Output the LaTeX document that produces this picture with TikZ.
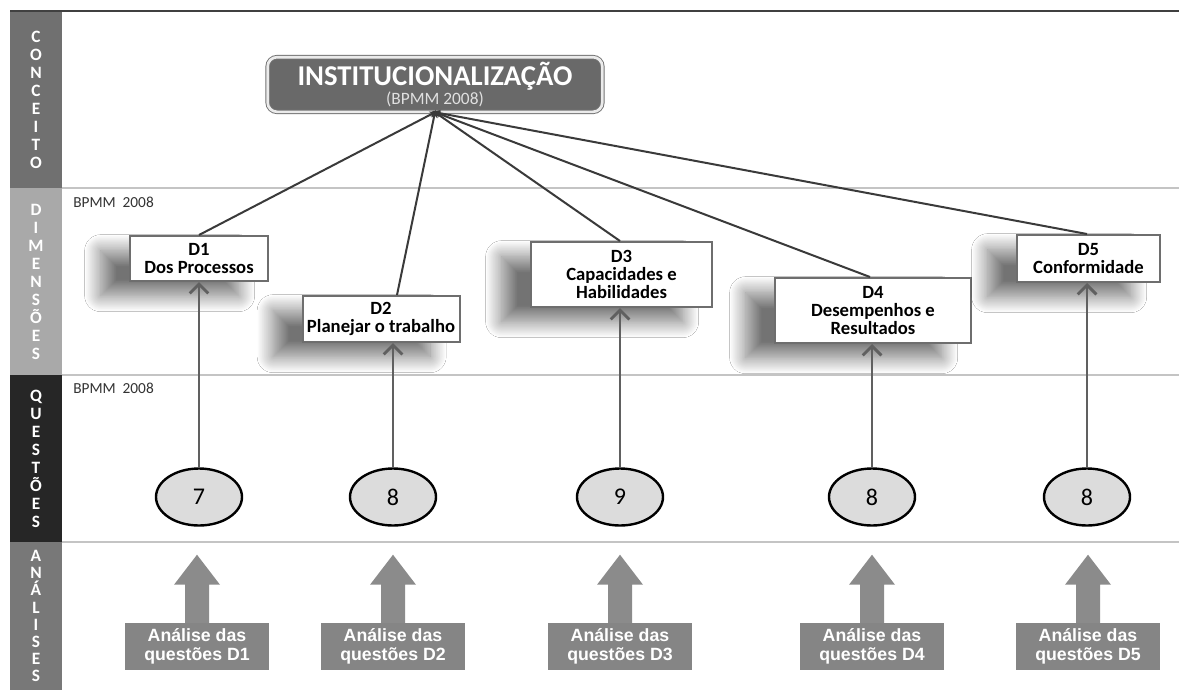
\documentclass[tikz,border=0pt]{standalone}
\usepackage{fontspec}
\setmainfont{Carlito}
\newfontfamily\arialf{Liberation Sans}
\usetikzlibrary{arrows.meta,calc,shadows.blur,shapes.geometric}
\definecolor{sconc}{HTML}{707070}
\definecolor{sdim}{HTML}{A9A9A9}
\definecolor{sques}{HTML}{262626}
\definecolor{sanal}{HTML}{787878}
\definecolor{mainfill}{HTML}{696969}
\definecolor{sepcol}{HTML}{C4C4C4}
\definecolor{dborder}{HTML}{6E6E6E}
\definecolor{linecol}{HTML}{3A3A3A}
\definecolor{upcol}{HTML}{606060}
\definecolor{blockcol}{HTML}{858585}
\definecolor{circfill}{HTML}{DCDCDC}
\begin{document}
\begin{tikzpicture}[x=0.75pt,y=-0.75pt,
  sidebox/.style={rectangle, inner sep=0pt, minimum width=39pt, text=white,
    font=\fontsize{13}{13.5}\selectfont\bfseries, align=center},
  sepline/.style={draw=sepcol, line width=1.5pt},
  bpmm/.style={anchor=west, inner sep=0pt, text=black!80, font=\fontsize{11.5}{12}\selectfont},
  mainbox/.style={rectangle, rounded corners=7pt, fill=mainfill, draw=black!55,
    double=black!8, double distance=2pt, line width=0.7pt,
    minimum width=251pt, minimum height=41pt, text=white, align=center, inner sep=0pt},
  dbox/.style={rectangle, draw=dborder, line width=1.5pt, fill=white, align=center,
    inner sep=0pt, font=\fontsize{14}{13.5}\selectfont\bfseries,
    blur shadow={shadow xshift=-22pt, shadow yshift=-11pt, shadow blur radius=12pt,
      shadow blur steps=24, shadow opacity=55}},
  qcirc/.style={ellipse, draw=black, line width=1.8pt, fill=circfill, inner sep=0pt,
    minimum width=64.5pt, minimum height=42.75pt, font=\fontsize{18}{20}\selectfont},
  abox/.style={rectangle, fill=blockcol, text=white, align=center, inner sep=0pt,
    minimum width=108pt, minimum height=35.25pt,
    font=\arialf\fontsize{13.3}{13.8}\selectfont\bfseries},
  tomain/.style={draw=linecol, line width=1.5pt, -{Stealth[length=6pt,width=5pt]}, shorten >=-2pt},
  uparr/.style={draw=upcol, line width=2.2pt, -{Straight Barb[length=7pt,width=14pt]}}
]
\useasboundingbox (0,0) rectangle (1179,690);
\fill[white] (0,0) rectangle (1179,690);

% sidebar
\node[sidebox, fill=sconc, minimum height=132pt] (s1) at (36,100) {C\\O\\N\\C\\E\\I\\T\\O};
\node[sidebox, fill=sdim, minimum height=140.25pt] (s2) at (36,281.5) {D\\I\\M\\E\\N\\S\\Õ\\E\\S};
\node[sidebox, fill=sques, minimum height=125.25pt] (s3) at (36,458.5) {Q\\U\\E\\S\\T\\Õ\\E\\S};
\node[sidebox, fill=sanal, minimum height=111pt, font=\fontsize{13}{12.8}\selectfont\bfseries] (s4) at (36,616) {A\\N\\Á\\L\\I\\S\\E\\S};

% frame lines
\draw[draw=black!75, line width=2.2pt] (10,11) -- (1179,11);
\draw[sepline] (62,188) -- (1179,188);
\draw[sepline] (62,375) -- (1179,375);
\draw[sepline] (62,542) -- (1179,542);

\node[bpmm] (b1) at (73,202) {BPMM\ \ 2008};
\node[bpmm] (b2) at (73,388) {BPMM\ \ 2008};

% main concept
\node[mainbox] (main) at (435,84.5) {{\fontsize{21.5}{22}\selectfont\bfseries INSTITUCIONALIZAÇÃO}\\[0pt]{\fontsize{13}{14}\selectfont\color{black!12}(BPMM 2008)}};

% dimensions
\node[dbox, minimum width=103.5pt, minimum height=33.75pt] (d1) at (199,258.5) {D1\\Dos Processos};
\node[dbox, minimum width=117.75pt, minimum height=34.5pt] (d2) at (381,319) {D2\\Planejar o trabalho};
\node[dbox, minimum width=135.75pt, minimum height=48.75pt] (d3) at (621.5,274.5) {D3\\Capacidades e\\Habilidades};
\node[dbox, minimum width=147pt, minimum height=48.75pt] (d4) at (873,310.5) {D4\\Desempenhos e\\Resultados};
\node[dbox, minimum width=107.25pt, minimum height=35.25pt] (d5) at (1088.5,258.5) {D5\\Conformidade};

% question circles
\node[qcirc] (c1) at (199,497) {7};
\node[qcirc] (c2) at (393,497) {8};
\node[qcirc] (c3) at (620,497) {9};
\node[qcirc] (c4) at (872,497) {8};
\node[qcirc] (c5) at (1087,497) {8};

% analysis blocks
\node[abox] (a1) at (197,646.5) {Análise das\\questões D1};
\node[abox] (a2) at (393,646.5) {Análise das\\questões D2};
\node[abox] (a3) at (620,646.5) {Análise das\\questões D3};
\node[abox] (a4) at (872,646.5) {Análise das\\questões D4};
\node[abox] (a5) at (1088,646.5) {Análise das\\questões D5};
\foreach \a in {a1,a2,a3,a4,a5}{
  \fill[blockcol!95!white] ($(\a.north)+(-12,0.5)$) -- ($(\a.north)+(-12,-38)$) -- ($(\a.north)+(-23,-38)$)
    -- ($(\a.north)+(0,-68)$) -- ($(\a.north)+(23,-38)$) -- ($(\a.north)+(12,-38)$) -- ($(\a.north)+(12,0.5)$) -- cycle;
}

% connectors to main
\draw[tomain] (c1 |- d1.north) -- (main.south);
\draw[tomain] ($(d2.north)+(16,0)$) -- (main.south);
\draw[tomain] (c3 |- d3.north) -- (main.south);
\draw[tomain] ($(d4.north)+(-3,0)$) -- (main.south);
\draw[tomain] (c5 |- d5.north) -- (main.south);

% questions to dimensions
\draw[uparr] (c1.north) -- (c1 |- d1.south);
\draw[uparr] (c2.north) -- (c2 |- d2.south);
\draw[uparr] (c3.north) -- (c3 |- d3.south);
\draw[uparr] (c4.north) -- (c4 |- d4.south);
\draw[uparr] (c5.north) -- (c5 |- d5.south);
\end{tikzpicture}
\end{document}
